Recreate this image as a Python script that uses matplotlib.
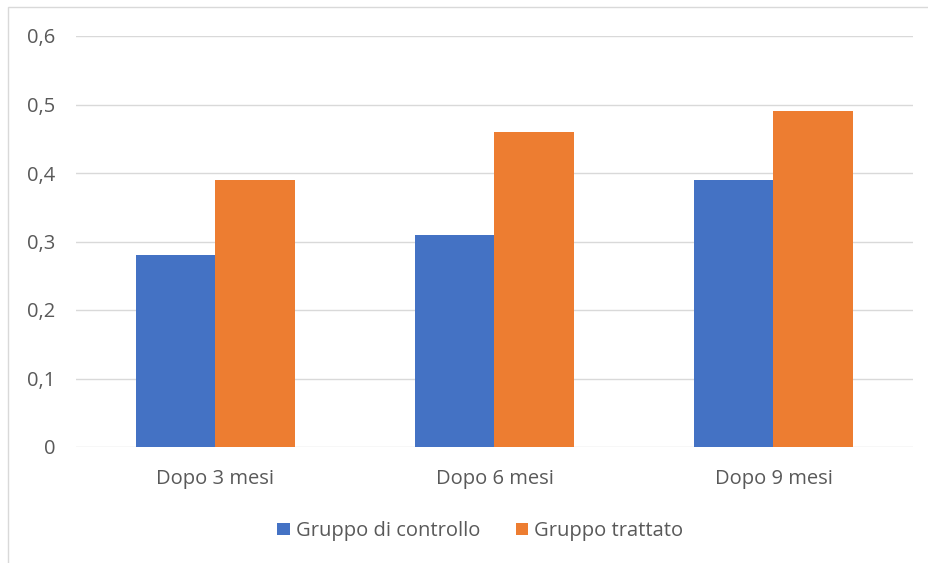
import numpy as np
import matplotlib.pyplot as plt
from matplotlib.patches import Rectangle

# Data
categories = ['Dopo 3 mesi', 'Dopo 6 mesi', 'Dopo 9 mesi']
controllo = [0.28, 0.31, 0.39]
trattato = [0.39, 0.46, 0.49]
series_names = ['Gruppo di controllo', 'Gruppo trattato']

plt.rcParams['font.family'] = ['Open Sans', 'DejaVu Sans']
text_color = '#595959'
fs = 14.5

fig = plt.figure(figsize=(9.29, 5.63), dpi=100)
ax = fig.add_axes([76/929, 1 - 447/563, (913 - 76)/929, (447 - 36)/563])

x = np.arange(len(categories))
w = 0.284
ax.bar(x - w/2, controllo, w, color='#4472C4', label=series_names[0], zorder=3)
ax.bar(x + w/2, trattato, w, color='#ED7D31', label=series_names[1], zorder=3)

ax.set_xlim(-0.5, 2.5)
ax.set_ylim(0, 0.6)
ax.set_yticks(np.arange(0, 0.61, 0.1))
ax.set_yticklabels(['0', '0,1', '0,2', '0,3', '0,4', '0,5', '0,6'])
ax.set_xticks(x)
ax.set_xticklabels(categories)
ax.tick_params(length=0, labelsize=fs, colors=text_color)
ax.tick_params(axis='y', pad=15)
ax.tick_params(axis='x', pad=16)
ax.grid(axis='y', color='#D9D9D9', linewidth=1, zorder=0)
for s in ax.spines.values():
    s.set_visible(False)

leg = ax.legend(loc='center', bbox_to_anchor=(0.5 - 14/837, 1 - (531 - 36)/(447 - 36)),
                ncol=2, frameon=False, fontsize=fs, handlelength=0.6,
                handleheight=0.6, handletextpad=0.3, columnspacing=1.8)
for t in leg.get_texts():
    t.set_color(text_color)

# chart frame (cropped at the right and bottom)
fig.add_artist(Rectangle((8/929, -0.1), 1.2, 1 - 7/563 + 0.1,
                         transform=fig.transFigure, fill=False,
                         edgecolor='#D9D9D9', linewidth=1))

fig.savefig('out.png', dpi=100)
